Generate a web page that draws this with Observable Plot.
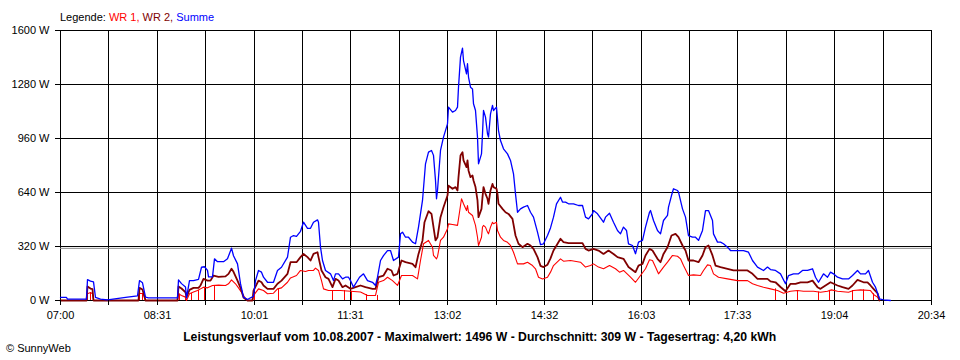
<!DOCTYPE html>
<html>
<head>
<meta charset="utf-8">
<script src="https://cdn.jsdelivr.net/npm/d3@7"></script>
<script src="https://cdn.jsdelivr.net/npm/@observablehq/plot@0.6"></script>
<style>
  html, body { margin: 0; padding: 0; background: #fff; }
  #wrap { position: relative; width: 960px; height: 360px; background: #fff; font-family: "Liberation Sans", Arial, sans-serif; color: #000; overflow: hidden; }
  #chart { position: absolute; left: 0; top: 0; }
  #legend { position: absolute; left: 60px; top: 12px; font-size: 11px; line-height: 1; white-space: nowrap; }
  #caption { position: absolute; left: 0; top: 331px; width: 960px; text-align: center; font-size: 12px; line-height: 1; font-weight: bold; white-space: nowrap; }
  #capText { display: inline-block; transform-origin: 50% 50%; }
  #copy { position: absolute; left: 6px; top: 343px; font-size: 11px; line-height: 1; white-space: nowrap; }
</style>
</head>
<body>
<div id="wrap">
  <div id="chart"></div>
  <div id="legend">Legende: <span style="color:#ff0000">WR 1,</span> <span style="color:#800000">WR 2,</span> <span style="color:#0000ff">Summe</span></div>
  <div id="caption"><span id="capText">Leistungsverlauf vom 10.08.2007 - Maximalwert: 1496 W - Durchschnitt: 309 W - Tagesertrag: 4,20 kWh</span></div>
  <div id="copy">© SunnyWeb</div>
</div>
<script>
// ---- axis definitions ----
const START = "07:00", END = "20:34";
const xTickLabels = ["07:00","08:31","10:01","11:31","13:02","14:32","16:03","17:33","19:04","20:34"];
const yTicks = [0, 320, 640, 960, 1280, 1600];
const average = 309; // Durchschnitt (W)

// ---- data: minutes after 07:00 and power in W ----
const sumT = [0,6,7,24,25,28,31,33,37,44,63,72,74,77,79,82,109,110,113,117,118,121,124,129,132,135,137,138,142,144,147,152,156,160,162,165,168,171,175,178,180,182,185,188,190,193,199,203,207,212,215,218,221,224,227,231,234,236,240,241,243,245,248,252,255,257,260,264,266,269,271,274,279,283,287,292,294,296,299,302,306,308,311,316,318,320,322,325,329,332,335,338,341,344,347,349,350,351,352,355,358,362,363,366,369,371,372,374,376,377,379,380,381,383,385,386,388,390,391,393,394,395,397,399,400,402,404,405,407,408,409,411,414,418,421,423,425,427,430,433,436,439,442,446,449,451,455,458,461,464,467,469,472,475,479,484,488,491,493,497,498,502,507,509,513,517,521,523,526,529,531,535,537,540,544,547,550,551,554,558,561,564,567,568,571,573,577,578,581,584,587,591,593,596,600,603,606,609,610,614,617,620,623,626,633,638,643,647,651,657,661,664,668,673,678,680,685,690,693,698,703,706,708,713,717,720,722,726,731,736,740,745,748,752,755,759,762,765,769,776];
const sumW = [18,18,8,8,124,115,110,18,8,4,20,28,118,105,20,16,16,122,100,80,15,118,118,125,197,200,178,140,140,247,230,230,247,310,265,217,100,20,6,16,25,118,178,168,138,108,108,178,197,257,375,385,380,410,464,428,428,464,478,464,316,237,178,158,118,158,158,128,138,138,118,79,138,158,118,108,89,138,237,266,296,296,237,257,395,405,375,375,346,336,435,593,810,879,889,860,711,603,652,889,968,1047,1146,1116,1126,1146,1264,1442,1496,1422,1343,1403,1324,1264,1254,1166,1126,968,810,869,988,1126,1087,988,968,1106,1156,1126,1146,1077,1007,948,899,869,830,751,632,523,543,553,563,523,494,405,331,336,385,430,494,573,612,583,583,573,573,563,563,494,484,514,533,514,464,494,517,464,415,395,435,415,336,326,277,346,356,435,523,533,474,415,395,474,504,553,622,662,652,642,543,494,385,375,375,356,415,533,533,474,395,346,346,336,316,296,296,296,286,237,198,178,198,183,178,158,99,148,158,158,178,178,188,138,108,158,138,168,158,138,128,128,148,178,158,158,178,108,79,10,4,0];

const wr2T = [0,24,25,28,30,31,73,74,77,79,109,110,113,117,118,121,124,129,131,134,137,140,143,148,154,157,160,162,165,168,171,175,179,180,185,188,190,193,199,203,207,212,215,221,224,227,231,234,236,240,241,244,248,250,254,257,260,264,266,271,276,280,285,292,294,297,302,306,309,311,315,319,322,329,332,335,338,340,344,347,349,350,352,355,358,362,363,366,369,371,372,374,376,377,379,380,381,383,385,386,388,390,391,393,394,395,397,399,400,402,404,405,407,408,409,413,416,419,422,425,428,432,436,439,442,446,449,451,455,458,461,464,467,470,475,488,491,493,498,503,507,512,517,521,526,531,537,540,544,547,550,553,558,561,564,567,571,575,578,581,584,587,592,596,600,603,606,609,612,617,623,629,636,642,647,651,656,661,664,668,673,678,682,687,692,698,703,707,710,715,720,726,731,736,740,745,750,754,757,760,764,765];
const wr2W = [0,0,83,71,68,0,0,75,65,0,0,83,71,49,20,63,75,75,89,128,118,118,148,140,143,158,188,170,118,75,18,0,0,59,118,108,89,69,69,99,118,158,227,227,257,276,257,237,276,286,257,178,138,128,79,128,118,79,89,69,79,89,79,69,69,138,148,188,178,148,158,237,227,217,197,276,356,464,529,513,435,356,375,494,553,622,681,662,672,652,731,859,879,830,790,830,771,731,741,711,672,593,494,543,613,672,632,603,573,652,691,672,662,632,573,543,523,513,484,385,336,316,336,326,306,257,205,198,212,250,296,326,366,346,340,340,306,296,306,296,276,296,276,257,247,198,168,207,217,267,306,296,247,227,276,316,385,395,375,326,296,237,237,227,267,316,326,267,207,198,188,178,178,178,158,128,128,128,113,108,80,55,99,99,108,108,118,79,69,89,108,89,79,69,89,122,108,108,89,69,43,0];

const wr1T = [0,24,25,28,30,31,73,74,78,79,109,110,113,117,118,121,124,128,131,134,137,142,148,154,157,160,164,166,170,173,175,179,180,185,190,193,199,203,207,212,215,221,224,229,232,236,238,241,244,246,250,262,271,280,287,294,297,302,306,310,315,319,324,329,334,336,339,344,348,349,351,352,355,358,362,363,366,371,373,375,377,379,380,381,385,386,388,390,391,393,394,395,397,399,400,402,404,405,407,408,411,414,418,421,423,427,433,436,441,444,447,450,455,458,461,467,470,477,486,491,495,498,503,507,513,519,522,526,533,537,542,547,550,553,556,559,564,567,572,577,579,582,587,592,598,601,605,607,610,615,623,633,642,647,651,657,664,670,676,682,689,694,704,710,717,721,726,736,741,748,757,760,764,765];
const wr1W = [0,0,40,47,40,0,0,43,40,0,0,40,30,20,0,40,50,59,69,79,75,89,91,89,99,122,99,75,40,10,0,0,30,69,59,40,43,69,75,108,134,148,178,172,178,178,192,178,118,69,59,59,55,50,30,30,108,118,138,118,89,148,148,148,128,237,336,356,316,267,247,260,356,375,425,454,450,445,523,603,573,533,563,523,504,484,445,375,326,375,435,445,435,405,395,435,464,455,464,415,375,356,345,326,286,217,217,227,207,188,138,128,138,168,207,247,233,237,227,198,207,217,198,188,207,188,168,178,138,108,148,188,241,237,198,158,198,227,267,262,247,207,148,152,148,178,211,207,158,138,128,118,118,99,89,79,69,59,43,55,59,55,55,49,55,63,55,49,59,63,59,36,20,0];

// short WR 1 dropouts to 0 W (minute, level before the drop)
const wr1DropT = [25,28,74,77,111,117,122,129,135,144,181,204,254,265,272,286,296,668,689,708,719,740,750,760];
const wr1DropW = [40,47,43,40,38,20,42,59,79,89,30,69,59,59,55,35,30,69,59,50,60,59,63,40];

// ---- build tables ----
const toMin = s => { const [h, m] = s.split(":").map(Number); return (h - 7) * 60 + m; };
const x0 = toMin(START), x1 = toMin(END);
const gridTicks = d3.range(19).map(i => x0 + i * (x1 - x0) / 18);
const rows = (T, W) => T.map((t, i) => ({t, w: W[i]}));
const sum = rows(sumT, sumW), wr1 = rows(wr1T, wr1W), wr2 = rows(wr2T, wr2W), drops = rows(wr1DropT, wr1DropW);
const fmtX = d => { const i = Math.round((d - x0) * 18 / (x1 - x0)); return i % 2 === 0 ? xTickLabels[i / 2] : ""; };

const chart = Plot.plot({
  width: 960,
  height: 330,
  marginTop: 30,
  marginBottom: 30,
  marginLeft: 60,
  marginRight: 29,
  style: { fontFamily: "'Liberation Sans', Arial, sans-serif", fontSize: "11px", color: "#000", background: "transparent", overflow: "visible" },
  x: { domain: [x0, x1], round: true },
  y: { domain: [0, 1600] },
  marks: [
    Plot.gridX(gridTicks, { stroke: "#000", strokeOpacity: 1, strokeWidth: 1 }),
    Plot.gridY(yTicks, { stroke: "#000", strokeOpacity: 1, strokeWidth: 1 }),
    Plot.ruleY([average], { stroke: "#8c8c8c", strokeWidth: 1 }),
    Plot.ruleX(drops, { x: "t", y1: 0, y2: "w", stroke: "#ff0000", strokeWidth: 1 }),
    Plot.line(wr1, { x: "t", y: "w", stroke: "#ff0000", strokeWidth: 1.1 }),
    Plot.line(wr2, { x: "t", y: "w", stroke: "#800000", strokeWidth: 1.8 }),
    Plot.line(sum, { x: "t", y: "w", stroke: "#0000ff", strokeWidth: 1.3 }),
    Plot.axisX({ ticks: gridTicks, tickFormat: fmtX, tickSize: 5, tickPadding: 6, label: null }),
    Plot.axisY({ ticks: yTicks, tickFormat: d => d + " W", tickSize: 5, tickPadding: 6, label: null })
  ]
});
document.getElementById("chart").appendChild(chart);

// fit caption to its width in the reference
const cap = document.getElementById("capText");
const w = cap.getBoundingClientRect().width;
if (w > 0) cap.style.transform = `scaleX(${593 / w})`;
</script>
</body>
</html>
